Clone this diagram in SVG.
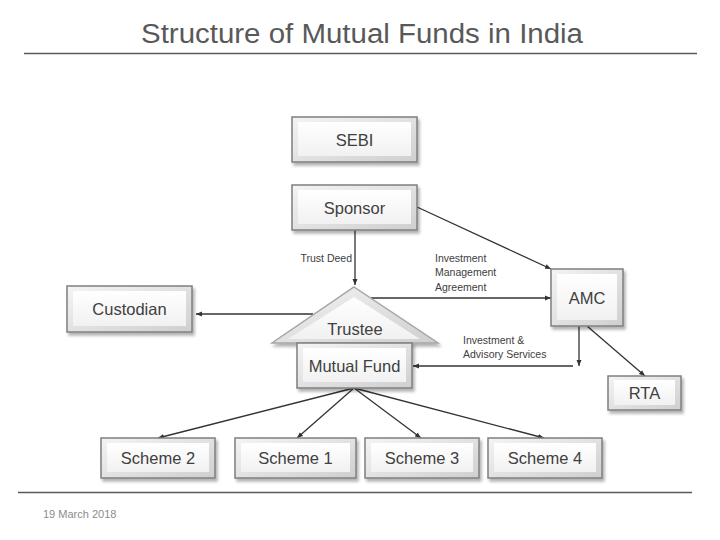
<svg xmlns="http://www.w3.org/2000/svg" width="720" height="540" viewBox="0 0 720 540">
<defs>
<linearGradient id="gOuter" x1="0" y1="0" x2="1" y2="1">
<stop offset="0" stop-color="#f4f4f4"/>
<stop offset="1" stop-color="#cfcfcf"/>
</linearGradient>
<linearGradient id="gInner" x1="0" y1="0" x2="0" y2="1">
<stop offset="0" stop-color="#ffffff"/>
<stop offset="1" stop-color="#f1f1f1"/>
</linearGradient>
<filter id="sh" x="-10%" y="-10%" width="130%" height="140%">
<feDropShadow dx="2" dy="3" stdDeviation="1.5" flood-color="#000" flood-opacity="0.3"/>
</filter>
<marker id="arr" markerUnits="userSpaceOnUse" markerWidth="7" markerHeight="6" refX="6" refY="3" orient="auto">
<path d="M0,0.5 L6,3 L0,5.5 z" fill="#333"/>
</marker>
</defs>
<style>
.outer{fill:url(#gOuter);stroke:#7f7f7f;stroke-width:1.5;filter:url(#sh)}
.inner{fill:url(#gInner)}
.lbl{font-family:"Liberation Sans",Arial,sans-serif;font-size:16.5px;fill:#404040;text-anchor:middle}
.small{font-family:"Liberation Sans",Arial,sans-serif;font-size:10.5px;fill:#404040}
.conn{fill:none;stroke:#333;stroke-width:1.3;marker-end:url(#arr)}
.rule{stroke:#595959;stroke-width:1.3}
</style>
<rect width="720" height="540" fill="#fff"/>
<text x="362" y="43" font-family="'Liberation Sans',Arial,sans-serif" font-size="27" fill="#595959" text-anchor="middle" textLength="442" lengthAdjust="spacingAndGlyphs">Structure of Mutual Funds in India</text>
<line class="rule" x1="24" y1="53.5" x2="697" y2="53.5"/>
<line class="rule" x1="18" y1="492.5" x2="692" y2="492.5"/>
<text x="43" y="518" font-family="'Liberation Sans',Arial,sans-serif" font-size="11" fill="#8c8c8c">19 March 2018</text>

<g id="connectors">
<path class="conn" d="M355,230 V285"/>
<path class="conn" d="M417,207 L551,269"/>
<path class="conn" d="M371,298 H551"/>
<path class="conn" d="M313,314 H196"/>
<path class="conn" d="M579,326 V366"/>
<path class="conn" d="M573,366 H413"/>
<path class="conn" d="M587,326 L645,376"/>
<path class="conn" d="M354,388 L158,438"/>
<path class="conn" d="M354,388 L297,438"/>
<path class="conn" d="M354,388 L421,438"/>
<path class="conn" d="M354,388 L544,438"/>
<text class="small" x="352" y="262" text-anchor="end">Trust Deed</text>
<text class="small" x="435" y="262">Investment</text>
<text class="small" x="435" y="276">Management</text>
<text class="small" x="435" y="291">Agreement</text>
<text class="small" x="463" y="344">Investment &amp;</text>
<text class="small" x="463" y="358">Advisory Services</text>
</g>

<g id="sebi">
<rect class="outer" x="292" y="117" width="125" height="45"/>
<rect class="inner" x="298" y="122" width="113" height="34"/>
<text class="lbl" x="354.5" y="146">SEBI</text>
</g>
<g id="sponsor">
<rect class="outer" x="292" y="185" width="125" height="45"/>
<rect class="inner" x="298" y="190" width="113" height="34"/>
<text class="lbl" x="354.5" y="214">Sponsor</text>
</g>
<g id="custodian">
<rect class="outer" x="67" y="286" width="125" height="46"/>
<rect class="inner" x="73" y="291" width="113" height="35"/>
<text class="lbl" x="129.5" y="315">Custodian</text>
</g>
<g id="amc">
<rect class="outer" x="551" y="269" width="72" height="57"/>
<rect class="inner" x="557" y="274" width="60" height="46"/>
<text class="lbl" x="587" y="304">AMC</text>
</g>
<g id="rta">
<rect class="outer" x="608" y="376" width="73" height="34"/>
<rect class="inner" x="614" y="380" width="61" height="25"/>
<text class="lbl" x="644.5" y="399">RTA</text>
</g>
<g id="trustee">
<polygon points="354,287 438,343 272,343" fill="url(#gOuter)" stroke="#a6a6a6" stroke-width="1.5" filter="url(#sh)"/>
<polygon points="354,297 420,339 288,339" fill="url(#gInner)"/>
<text class="lbl" x="355" y="335">Trustee</text>
</g>
<g id="mutual-fund">
<rect class="outer" x="297" y="343" width="115" height="45"/>
<rect class="inner" x="303" y="348" width="103" height="34"/>
<text class="lbl" x="354.5" y="372">Mutual Fund</text>
</g>
<g id="scheme2">
<rect class="outer" x="101" y="438" width="114" height="40"/>
<rect class="inner" x="107" y="443" width="102" height="29"/>
<text class="lbl" x="158" y="464">Scheme 2</text>
</g>
<g id="scheme1">
<rect class="outer" x="235" y="438" width="121" height="40"/>
<rect class="inner" x="241" y="443" width="109" height="29"/>
<text class="lbl" x="295.5" y="464">Scheme 1</text>
</g>
<g id="scheme3">
<rect class="outer" x="365" y="438" width="114" height="40"/>
<rect class="inner" x="371" y="443" width="102" height="29"/>
<text class="lbl" x="422" y="464">Scheme 3</text>
</g>
<g id="scheme4">
<rect class="outer" x="488" y="438" width="114" height="40"/>
<rect class="inner" x="494" y="443" width="102" height="29"/>
<text class="lbl" x="545" y="464">Scheme 4</text>
</g>
</svg>
